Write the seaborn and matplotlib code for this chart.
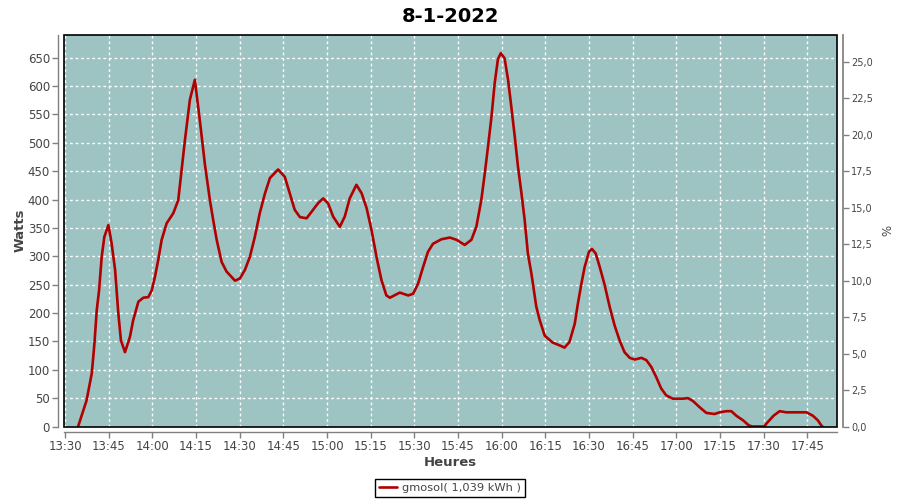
import matplotlib
matplotlib.use("Agg")
import matplotlib.pyplot as plt
from matplotlib.patches import Rectangle
import seaborn as sns
import pandas as pd

# ---- data (minutes after 13:30, watts) ----
minutes = [4.5, 7.4, 9.2, 10.1, 10.9, 11.7, 12.6, 13.5, 14.9, 16.0, 17.2, 18.3, 19.2, 20.6,
           22.3, 23.4, 25.2, 26.9, 28.6, 29.8, 30.9, 32.0, 33.2, 34.9, 37.2, 38.9, 41.2,
           42.9, 44.6, 46.3, 48.1, 49.8, 50.9, 52.1, 53.8, 55.5, 58.4, 60.1, 61.8, 63.5,
           65.2, 66.9, 68.7, 70.4, 73.2, 75.5, 77.2, 78.9, 80.7, 83.0, 85.2, 87.0, 88.7,
           90.4, 92.1, 94.4, 96.1, 97.8, 100.1, 101.9, 103.6, 105.3, 107.0, 108.7, 110.4,
           111.6, 115.0, 117.9, 119.6, 121.3, 123.0, 124.7, 126.4, 129.3, 132.2, 134.5,
           137.3, 139.6, 141.3, 143.0, 144.2, 145.3, 146.5, 147.6, 148.7, 149.7, 151.0,
           152.2, 153.3, 154.5, 155.6, 156.8, 157.9, 159.0, 160.2, 161.9, 163.1, 164.8,
           167.5, 169.9, 171.6, 173.3, 175.1, 176.2, 177.4, 178.5, 180.0, 181.0, 182.3,
           183.7, 185.4, 187.1, 188.8, 190.5, 192.2, 194.0, 195.7, 198.0, 199.7, 201.4,
           203.1, 204.8, 206.5, 208.8, 212.2, 214.0, 215.7, 218.0, 220.3, 223.1, 224.9,
           227.2, 228.9, 230.6, 232.9, 234.9, 236.1, 240.2, 241.1, 243.4, 245.5, 247.8,
           254.7, 256.9, 258.6, 259.8, 260.2]
watts = [0, 46, 94, 146, 205, 240, 299, 334, 355, 323, 276, 200, 152, 131,
         158, 187, 220, 227, 228, 240, 264, 293, 329, 358, 376, 399, 505,
         576, 611, 540, 460, 398, 364, 329, 290, 273, 257, 261, 276, 299,
         334, 376, 411, 438, 453, 440, 411, 382, 369, 367, 382, 394, 402,
         393, 370, 352, 370, 402, 426, 411, 385, 346, 299, 258, 231,
         227, 236, 231, 234, 252, 281, 308, 322, 330, 333, 329,
         320, 329, 352, 399, 446, 493, 546, 605, 647, 658, 649,
         611, 564, 511, 458, 411, 364, 305, 270, 211, 187, 160,
         148, 143, 139, 149, 181, 217, 252, 281, 308, 313, 305,
         281, 249, 211, 178, 152, 131, 121, 118, 121, 117, 105,
         87, 67, 55, 49, 49, 50, 45, 34, 24, 22, 25,
         27, 27, 19, 11, 2, 0, 0, 6, 19, 27, 25,
         25, 19, 11, 2, 0]
tick_minutes = list(range(0, 256, 15))
tick_labels = ["13:30", "13:45", "14:00", "14:15", "14:30", "14:45", "15:00", "15:15", "15:30",
               "15:45", "16:00", "16:15", "16:30", "16:45", "17:00", "17:15", "17:30", "17:45"]
watt_ticks = list(range(0, 651, 50))
pct_ticks = [0, 2.5, 5, 7.5, 10, 12.5, 15, 17.5, 20, 22.5, 25]
title = "8-1-2022"
series_label = "gmosol( 1,039 kWh )"

df = pd.DataFrame({"min": minutes, "W": watts})

sns.set_theme(style="white")
plt.rcParams["font.family"] = ["DejaVu Sans"]
txt = "#444444"
gray = "#808080"

fig = plt.figure(figsize=(9, 5), dpi=100)
fig.patch.set_facecolor("white")
ax = fig.add_axes([64 / 900, 1 - 426.5 / 500, 773.3 / 900, 391.5 / 500])
ax.set_facecolor("#9EC3C3")

sns.lineplot(data=df, x="min", y="W", ax=ax, color="#B00000", lw=1.9, label=series_label,
             zorder=5)

ax.set_xlim(-0.35, 265.3)
ax.set_ylim(0, 690)
ax.set_xticks(tick_minutes)
ax.set_xticklabels(tick_labels)
ax.set_yticks(watt_ticks)
ax.grid(True, color="white", ls=(0, (2, 2)), lw=1)
ax.set_axisbelow(True)

for s in ["top", "right"]:
    ax.spines[s].set_visible(False)
for s in ["left", "bottom"]:
    ax.spines[s].set_position(("outward", 4))
    ax.spines[s].set_color(gray)
    ax.spines[s].set_linewidth(1)
ax.tick_params(axis="both", which="major", direction="out", length=4, width=1, color=gray,
               labelcolor=txt, labelsize=8.5, pad=2, bottom=True, left=True)
ax.add_patch(Rectangle((0, 0), 1, 1, transform=ax.transAxes, fill=False, edgecolor="black",
                       lw=1.2, zorder=10, clip_on=False))

ax.set_xlabel("Heures", fontsize=9.5, fontweight="bold", color=txt, labelpad=2)
ax.set_ylabel("Watts", fontsize=9.5, fontweight="bold", color=txt, labelpad=1)
ax.set_title(title, fontsize=14, fontweight="bold", color="black", pad=9)

ax2 = ax.twinx()
ax2.set_ylim(0, 26.83)
ax2.set_yticks(pct_ticks)
ax2.set_yticklabels([f"{v:.1f}".replace(".", ",") for v in pct_ticks])
for s in ["top", "left", "bottom"]:
    ax2.spines[s].set_visible(False)
ax2.spines["right"].set_position(("outward", 4))
ax2.spines["right"].set_color(gray)
ax2.tick_params(axis="y", direction="out", length=4, width=1, color=gray, labelcolor=txt,
                labelsize=7, pad=2, right=True)
ax2.set_ylabel("%", fontsize=8.5, color=txt, labelpad=6)
ax2.grid(False)

leg = ax.legend(loc="center", bbox_to_anchor=(0.5, 0.024), bbox_transform=fig.transFigure,
                frameon=True, fancybox=False, edgecolor="black", framealpha=1, fontsize=8.2,
                handlelength=1.6, handletextpad=0.4, borderpad=0.35, borderaxespad=0)
leg.get_frame().set_linewidth(1)
for t in leg.get_texts():
    t.set_color(txt)

fig.savefig("out.png", dpi=100, facecolor="white")
